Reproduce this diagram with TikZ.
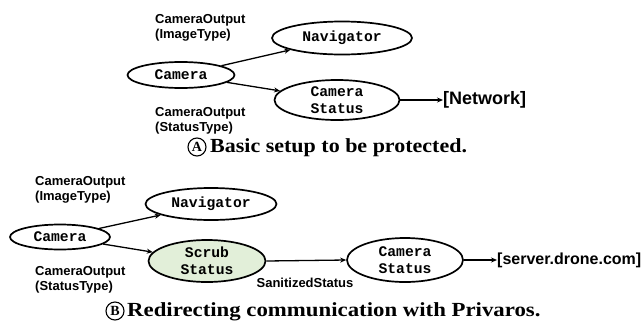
\documentclass[tikz,border=0pt]{standalone}
\usepackage{fontspec}
\usepackage{graphicx}
\setmainfont{Liberation Serif}
\setsansfont{Liberation Sans}
\setmonofont{Liberation Mono}
\usetikzlibrary{shapes.geometric,arrows.meta}
\definecolor{scrubfill}{HTML}{E2EFD9}
\begin{document}
\begin{tikzpicture}[x=1pt,y=-1pt,
  proc/.style={ellipse,draw,line width=1.7pt,inner sep=0pt,align=center,
    font=\fontsize{14.7}{17}\selectfont\ttfamily\bfseries},
  lbl/.style={font=\fontsize{13}{14.8}\selectfont\sffamily\bfseries,align=left,inner sep=0pt},
  ext/.style={font=\fontsize{16}{18}\selectfont\sffamily\bfseries,inner sep=0pt},
  conn/.style={line width=1.3pt,-{Stealth[length=6pt,width=5pt]}},
  captxt/.style={font=\fontsize{20}{22}\selectfont\bfseries,inner sep=0pt},
  circ/.style={circle,draw,line width=1.1pt,inner sep=0pt,minimum size=18pt,
    font=\fontsize{14}{14}\selectfont\bfseries}]
\useasboundingbox (0,0) rectangle (642,330);
% ---- part A
\node[proc,minimum width=107pt,minimum height=26pt] (camA) at (181,75) {Camera};
\node[proc,minimum width=140pt,minimum height=33pt] (navA) at (342,38) {Navigator};
\node[proc,minimum width=125pt,minimum height=40pt] (csA) at (337,100) {Camera\\Status};
\node[ext,anchor=west,font=\fontsize{18}{20}\selectfont\sffamily\bfseries] (netA) at (443,100) {[Network]};
\node[lbl,anchor=north west] (l1A) at (155,14) {CameraOutput\\(ImageType)};
\node[lbl,anchor=north west] (l2A) at (155,107) {CameraOutput\\(StatusType)};
\draw[conn] (camA) -- (navA);
\draw[conn] (camA) -- (csA);
\draw[conn] (csA) -- (netA);
\node[circ] (ca) at (197,147) {A};
\node[captxt,anchor=west] (capA) at (210,148) {\scalebox{1.1}[1]{Basic setup to be protected.}};
% ---- part B
\node[proc,minimum width=100pt,minimum height=25pt] (camB) at (60,237) {Camera};
\node[proc,minimum width=131pt,minimum height=32pt] (navB) at (211,204) {Navigator};
\node[proc,fill=scrubfill,minimum width=117pt,minimum height=42pt] (scB) at (207,261) {Scrub\\Status};
\node[proc,minimum width=116pt,minimum height=44pt] (csB) at (405,260) {Camera\\Status};
\node[ext,anchor=west] (srvB) at (497,260) {[server.drone.com]};
\node[lbl,anchor=north west] (l1B) at (35,176) {CameraOutput\\(ImageType)};
\node[lbl,anchor=north west] (l2B) at (35,266) {CameraOutput\\(StatusType)};
\node[lbl,anchor=center] (l3B) at (305,283) {SanitizedStatus};
\draw[conn] (camB) -- (navB);
\draw[conn] (camB) -- (scB);
\draw[conn] (scB.east) -- (csB.west);
\draw[conn] (csB) -- (srvB);
\node[circ] (cb) at (115,311) {B};
\node[captxt,anchor=west] (capB) at (127,312) {\scalebox{1.14}[1]{Redirecting communication with Privaros.}};
\end{tikzpicture}
\end{document}
